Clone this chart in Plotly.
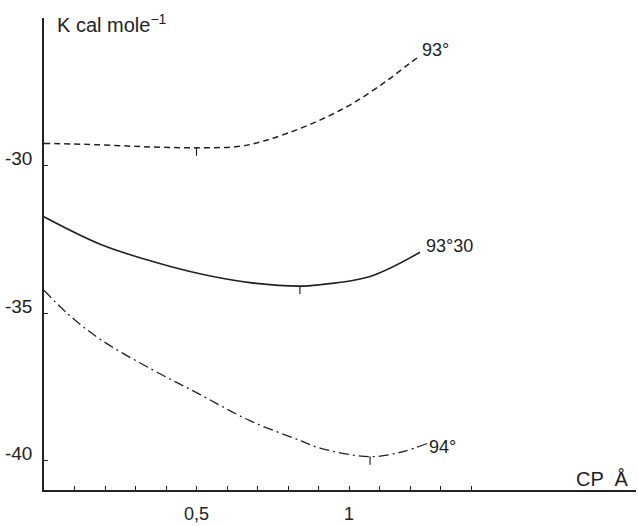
import plotly.graph_objects as go

# Data (CP in Å, energy in kcal/mol)
x_93 = [0.0, 0.184, 0.348, 0.5, 0.643, 0.72, 0.8, 0.905, 1.013, 1.125, 1.2, 1.233]
y_93 = [-29.25, -29.30, -29.37, -29.40, -29.35, -29.17, -28.90, -28.46, -27.89, -27.12, -26.53, -26.29]

x_9330 = [0.0, 0.184, 0.348, 0.511, 0.675, 0.839, 0.905, 1.069, 1.233]
y_9330 = [-31.74, -32.67, -33.23, -33.67, -33.97, -34.09, -34.04, -33.76, -32.94]

x_94 = [0.0, 0.075, 0.184, 0.348, 0.511, 0.675, 0.839, 0.905, 1.069, 1.177, 1.256]
y_94 = [-34.23, -35.0, -35.89, -36.88, -37.76, -38.65, -39.32, -39.58, -39.87, -39.70, -39.42]

# minima marks
min_x = [0.5, 0.839, 1.069]
min_y = [-29.40, -34.09, -39.87]

curve_labels = ["93°", "93°30", "94°"]

x_tickvals = [0.5, 1.0]
x_ticktext = ["0,5", "1"]
x_minor_tickvals = [0.1, 0.2, 0.3, 0.4, 0.5, 0.6, 0.7, 0.8, 0.9, 1.0, 1.1, 1.2, 1.3, 1.4]
y_tickvals = [-30, -35, -40]
y_ticktext = ["-30", "-35", "-40"]

INK = "#222222"
FONT = "Liberation Sans"

fig = go.Figure()
fig.add_trace(go.Scatter(x=x_93, y=y_93, mode="lines", line=dict(color=INK, width=1.5, dash="6px,4px", shape="spline")))
fig.add_trace(go.Scatter(x=x_9330, y=y_9330, mode="lines", line=dict(color=INK, width=1.6, shape="spline")))
fig.add_trace(go.Scatter(x=x_94, y=y_94, mode="lines", line=dict(color=INK, width=1.3, dash="10px,4px,2px,4px", shape="spline")))
fig.add_trace(go.Scatter(
    x=min_x, y=min_y, mode="markers", marker=dict(size=1, color=INK),
    error_y=dict(type="data", symmetric=False, array=[0, 0, 0], arrayminus=[0.27, 0.27, 0.27],
                 width=0, thickness=1.2, color=INK)))

# curve labels at the end of each curve
ends = [(x_93[-1], y_93[-1]), (x_9330[-1], y_9330[-1]), (x_94[-1], y_94[-1])]
label_shifts = [(0, -6), (4, -6), (0, -16)]
for (ex, ey), lab, (sx, sy) in zip(ends, curve_labels, label_shifts):
    fig.add_annotation(x=ex, y=ey, text=lab, showarrow=False, xanchor="left", yanchor="bottom",
                       xshift=sx, yshift=sy, font=dict(family=FONT, size=18, color=INK))

fig.add_annotation(xref="paper", yref="paper", x=0.018, y=1.0, text="K cal mole<sup>−1</sup>",
                   showarrow=False, xanchor="left", yanchor="top", yshift=9,
                   font=dict(family=FONT, size=20, color=INK))
fig.add_annotation(xref="paper", yref="paper", x=1.0, y=0.0, text="CP  Å",
                   showarrow=False, xanchor="right", yanchor="bottom", xshift=-5, yshift=-2,
                   font=dict(family=FONT, size=20, color=INK))

fig.update_layout(
    width=638, height=526,
    margin=dict(l=44, r=2, t=18, b=25),
    paper_bgcolor="white", plot_bgcolor="white",
    showlegend=False,
    font=dict(family=FONT, size=18, color=INK),
)
fig.update_xaxes(range=[0, 1.941], showgrid=False, zeroline=False, showline=True, linecolor=INK, linewidth=1.5,
                 tickmode="array", tickvals=x_tickvals, ticktext=x_ticktext, ticks="inside", ticklen=4,
                 tickcolor=INK, tickwidth=1.2, ticklabelstandoff=7,
                 minor=dict(tickmode="array", tickvals=x_minor_tickvals, ticks="inside", ticklen=4,
                            tickcolor=INK, tickwidth=1.2, showgrid=False),
                 tickfont=dict(family=FONT, size=18, color=INK))
fig.update_yaxes(range=[-41, -25], showgrid=False, zeroline=False, showline=True, linecolor=INK, linewidth=1.5,
                 tickmode="array", tickvals=y_tickvals, ticktext=y_ticktext, ticks="inside", ticklen=4,
                 tickcolor=INK, tickwidth=1.2, ticklabelstandoff=6, ticklabelshift=-7,
                 tickfont=dict(family=FONT, size=19, color=INK))

fig.write_html("out.html")
